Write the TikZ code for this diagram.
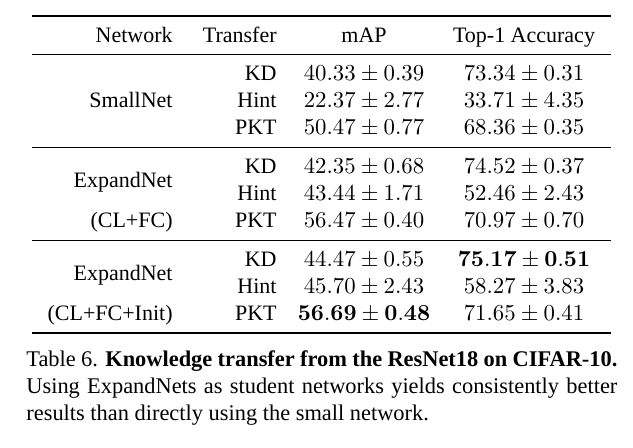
\RequirePackage{fix-cm}
\documentclass[tikz,border=0pt]{standalone}
\usepackage[no-math]{fontspec}
\setmainfont{Liberation Serif}
\usepackage{amsmath,amssymb}
\usepackage{tikz}

\begin{document}
\begin{tikzpicture}[x=0.5pt,y=-0.5pt,font=\fontsize{11}{13.5}\selectfont,
    lft/.style={anchor=base east,inner sep=0pt},
    mid/.style={anchor=base,inner sep=0pt},
    num/.style={anchor=base,inner sep=0pt,font=\fontsize{11.4}{13.5}\selectfont},
    captext/.style={anchor=base west,inner sep=0pt,font=\fontsize{11.2}{13.5}\selectfont},
    heavyrule/.style={line width=0.75pt},
    lightrule/.style={line width=0.45pt}]
    \useasboundingbox (0,0) rectangle (633,447);
    \draw[heavyrule] (32,16)--(611,16);
    \draw[lightrule] (32,54)--(611,54);
    \draw[lightrule] (32,147)--(611,147);
    \draw[lightrule] (32,240)--(611,240);
    \draw[heavyrule] (32,333)--(611,333);
    \node[lft] (ha) at (173,42) {Network};
    \node[lft] (hb) at (277,42) {Transfer};
    \node[mid] (hc) at (364,42) {mAP};
    \node[mid] (hd) at (524,42) {Top-1 Accuracy};
    \node[lft] (aa) at (173,107) {SmallNet};
    \node[lft] (ab) at (277,80) {KD};
    \node[lft] (ac) at (277,107) {Hint};
    \node[lft] (ad) at (277,134) {PKT};
    \node[num] (ae) at (364,80) {$40.33\pm0.39$};
    \node[num] (af) at (364,107) {$22.37\pm2.77$};
    \node[num] (ag) at (364,134) {$50.47\pm0.77$};
    \node[num] (ah) at (524,80) {$73.34\pm0.31$};
    \node[num] (ai) at (524,107) {$33.71\pm4.35$};
    \node[num] (aj) at (524,134) {$68.36\pm0.35$};
    \node[lft] (ba) at (173,187) {ExpandNet};
    \node[lft] (bb) at (173,227) {(CL+FC)};
    \node[lft] (bc) at (277,173) {KD};
    \node[lft] (bd) at (277,200) {Hint};
    \node[lft] (be) at (277,227) {PKT};
    \node[num] (bf) at (364,173) {$42.35\pm0.68$};
    \node[num] (bg) at (364,200) {$43.44\pm1.71$};
    \node[num] (bh) at (364,227) {$56.47\pm0.40$};
    \node[num] (bi) at (524,173) {$74.52\pm0.37$};
    \node[num] (bj) at (524,200) {$52.46\pm2.43$};
    \node[num] (bk) at (524,227) {$70.97\pm0.70$};
    \node[lft] (ca) at (173,280) {ExpandNet};
    \node[lft] (cb) at (173,320) {(CL+FC+Init)};
    \node[lft] (cc) at (277,266) {KD};
    \node[lft] (cd) at (277,293) {Hint};
    \node[lft] (ce) at (277,320) {PKT};
    \node[num] (cf) at (364,266) {$44.47\pm0.55$};
    \node[num] (cg) at (364,293) {$45.70\pm2.43$};
    \node[num] (ch) at (364,320) {$\mathbf{56.69}\pm\mathbf{0.48}$};
    \node[num] (ci) at (524,266) {$\mathbf{75.17}\pm\mathbf{0.51}$};
    \node[num] (cj) at (524,293) {$58.27\pm3.83$};
    \node[num] (ck) at (524,320) {$71.65\pm0.41$};
    \node[captext] (da) at (26,366) {\makebox[295.5pt][s]{Table 6. \textbf{Knowledge transfer from the ResNet18 on CIFAR-10.}}};
    \node[captext] (db) at (26,393) {\makebox[295.5pt][s]{Using ExpandNets as student networks yields consistently better}};
    \node[captext] (dc) at (26,420) {results than directly using the small network.};
  \end{tikzpicture}
\end{document}
